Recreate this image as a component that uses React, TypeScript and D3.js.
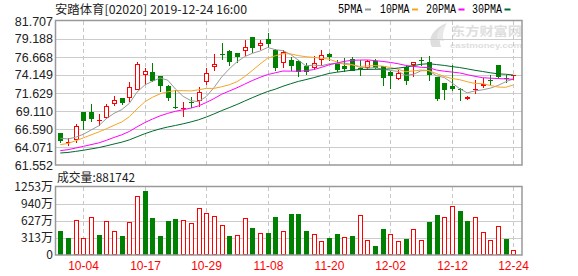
import React from 'react';
import * as d3 from 'd3';

const dates = ['09-30','10-02','10-03','10-04','10-08','10-09','10-10','10-11','10-14','10-15','10-16','10-17','10-18','10-21','10-22','10-23','10-24','10-25','10-28','10-29','10-30','10-31','11-01','11-04','11-05','11-06','11-07','11-08','11-11','11-12','11-13','11-14','11-15','11-18','11-19','11-20','11-21','11-22','11-25','11-26','11-27','11-28','11-29','12-02','12-03','12-04','12-05','12-06','12-09','12-10','12-11','12-12','12-13','12-16','12-17','12-18','12-19','12-20','12-23','12-24'];
const tickDates = ['10-04','10-17','10-29','11-08','11-20','12-02','12-12','12-24'];

const open = [65.98,64.67,65.00,68.97,68.97,67.75,68.13,70.09,70.93,70.93,72.09,74.15,74.57,73.96,72.56,69.62,69.53,70.36,70.55,73.12,75.22,77.05,77.55,77.27,77.46,79.51,78.16,79.18,77.69,75.83,76.20,76.11,75.36,75.13,76.29,77.13,75.83,75.36,76.39,75.15,75.13,76.06,75.36,74.52,73.59,75.22,75.45,76.20,75.92,73.90,73.03,72.60,72.15,70.79,72.05,72.56,73.45,75.59,73.68,73.95];
const high = [66.00,65.33,67.29,69.00,70.13,68.69,70.09,71.25,70.93,73.21,75.97,75.13,75.87,74.05,72.79,72.00,70.32,71.07,72.42,75.13,77.09,78.62,77.69,77.27,79.00,79.51,79.00,80.02,77.78,77.60,76.67,76.20,75.83,76.76,77.69,77.20,76.29,76.52,76.67,76.20,76.29,76.39,75.40,74.66,74.89,75.36,75.92,76.67,76.76,73.90,73.03,75.59,72.33,71.20,73.49,73.73,74.10,75.59,74.10,74.10];
const low = [64.70,64.16,64.63,66.40,67.52,66.96,67.99,69.76,69.90,70.32,71.99,72.79,73.17,71.72,70.46,69.39,68.22,69.53,69.67,72.79,74.66,76.20,75.45,75.83,76.85,77.22,77.69,77.92,74.66,75.13,74.66,73.87,74.19,74.80,75.36,76.06,74.52,74.52,74.66,74.05,74.89,74.99,72.56,72.23,73.40,72.79,73.87,75.36,73.26,70.55,70.69,71.86,70.55,70.65,71.49,72.33,72.79,73.73,73.03,73.49];
const close = [64.86,64.72,66.96,67.66,68.03,67.80,69.76,70.65,70.23,72.47,75.69,74.71,73.26,72.56,70.88,69.49,69.58,70.30,71.81,74.43,75.69,76.99,76.06,76.76,78.06,78.02,78.62,78.53,75.22,77.41,75.36,74.57,74.52,75.83,76.94,76.67,74.80,74.89,74.75,75.10,76.06,75.13,73.68,73.96,74.43,73.26,75.92,76.15,74.05,70.80,72.09,72.25,72.05,71.07,72.12,72.89,73.38,73.96,73.63,74.10];
// 成交量, 万股
const volume = [450,322,645,316,693,371,620,438,353,602,1095,1174,681,353,626,663,645,584,858,766,712,547,353,365,675,499,401,401,693,438,754,754,444,383,262,316,389,328,353,730,274,170,480,383,255,298,474,274,608,736,693,912,809,626,693,420,280,529,298,88.1742];
// estimated closes of the 29 sessions before 09-30 (needed for the moving averages)
const historyCloses = [62.3,62.6,62.9,62.5,62.2,62.4,62.8,62.6,62.7,62.7,62.0,62.4,62.9,63.2,63.0,62.6,62.5,62.9,63.0,62.7,63.0,63.3,63.6,63.8,63.8,65.2,65.8,65.6,65.04];

const priceTicks = [61.552,64.071,66.590,69.110,71.629,74.149,76.668,79.188,81.707];
const volTicks = [0,313,627,940,1253];
const maPeriods = [5,10,20,30];
const maColors = ['#999999','#f5a623','#ff00ff','#006b2d'];
const maLabels = ['5PMA','10PMA','20PMA','30PMA'];

const W = 578, H = 276;
const LEFT = 55.5, RIGHT = 522;
const P_TOP = 21, P_BOT = 165;
const V_TOP = 187, V_BOT = 255;
const RED = '#ff0000', GREEN = '#008000';

export default function App() {
  const x = d3.scalePoint<string>().domain(dates).range([60.3, 513.3]);
  const yP = d3.scaleLinear().domain([61.552, 81.707]).range([P_BOT, P_TOP]);
  const yV = d3.scaleLinear().domain([0, 1253]).range([V_BOT, V_TOP]);

  const all = [...historyCloses, ...close];
  const mas = maPeriods.map(n => close.map((_, i) => {
    const j = i + historyCloses.length;
    return d3.mean(all.slice(j - n + 1, j + 1)) as number;
  }));
  const line = d3.line<number>().x((_, i) => x(dates[i]) as number).y(d => yP(d));

  const cx = (i: number) => Math.round(x(dates[i]) as number);
  const mono = "'Liberation Mono', 'DejaVu Sans Mono', monospace";
  const cjk = "'Noto Sans CJK SC', 'Liberation Sans', sans-serif";
  const sans = "'Liberation Sans', Arial, sans-serif";

  const legendX = [338, 380, 426, 472];
  const legendW = [24.5, 29.5, 30, 30];

  return (
    <svg width={W} height={H} style={{ position: 'absolute', left: 0, top: 0, background: '#fff' }}>
      <rect x={0} y={0} width={W} height={H} fill="#fff" />
      {/* title */}
      <text x={55} y={13.5} fontFamily={cjk} fontSize={12} fill="#222" textLength={192} lengthAdjust="spacingAndGlyphs">安踏体育[02020] 2019-12-24 16:00</text>
      {/* legend */}
      {maLabels.map((l, k) => (
        <g key={l}>
          <text x={legendX[k]} y={13} fontFamily={mono} fontSize={12} fill="#000" textLength={legendW[k]} lengthAdjust="spacingAndGlyphs">{l}</text>
          <line x1={legendX[k] + legendW[k] + 2.5} x2={legendX[k] + legendW[k] + 8.5} y1={9.5} y2={9.5} stroke={maColors[k]} strokeWidth={2} />
        </g>
      ))}
      {/* watermark */}
      <g fill="#dedede">
        <path d="M432,47 C427,38 434,28 447,23 C441,30 438,37 441,47 Z" />
        <path d="M437,40 C436,33 440,27 446,25 C443,31 442,36 444,41 Z" fill="#e8e8e8" />
        <text x={451} y={35.5} fontFamily={cjk} fontSize={12.5} fontWeight="bold" textLength={71} lengthAdjust="spacingAndGlyphs">东方财富网</text>
        <text x={450} y={47.5} fontFamily={sans} fontSize={8} fontWeight="bold" textLength={72} lengthAdjust="spacingAndGlyphs">eastmoney.com</text>
      </g>
      {/* price grid */}
      {priceTicks.slice(1, -1).map(t => (
        <line key={t} x1={LEFT} x2={RIGHT} y1={Math.round(yP(t)) + 0.5} y2={Math.round(yP(t)) + 0.5} stroke="#cccccc" />
      ))}
      {volTicks.slice(1, -1).map(t => (
        <line key={t} x1={LEFT} x2={RIGHT} y1={Math.round(yV(t)) + 0.5} y2={Math.round(yV(t)) + 0.5} stroke="#cccccc" />
      ))}
      {tickDates.map(d => {
        const xx = Math.round(x(d) as number) + 0.5;
        return (
          <g key={d}>
            <line x1={xx} x2={xx} y1={P_TOP} y2={P_BOT} stroke="#c8c8c8" strokeDasharray="4,3" />
            <line x1={xx} x2={xx} y1={V_TOP} y2={V_BOT} stroke="#c8c8c8" strokeDasharray="4,3" />
            <text x={xx} y={270} textAnchor="middle" fontFamily={sans} fontSize={12} fill={RED}>{d}</text>
          </g>
        );
      })}
      {/* price labels */}
      {priceTicks.map(t => (
        <text key={t} x={53} y={yP(t)} dy="0.36em" textAnchor="end" fontFamily={sans} fontSize={12.5} fill="#222">{t.toFixed(3)}</text>
      ))}
      {volTicks.map(t => (
        <text key={t} x={53} y={yV(t)} dy="0.36em" textAnchor="end" fontFamily={cjk} fontSize={12} fill="#222">{t === 0 ? '0' : `${t}万`}</text>
      ))}
      {/* candles */}
      {dates.map((d, i) => {
        const c = cx(i);
        const up = close[i] >= open[i];
        const col = up ? RED : GREEN;
        const yTop = yP(Math.max(open[i], close[i]));
        const yBot = yP(Math.min(open[i], close[i]));
        const bh = Math.max(1, Math.round(yBot - yTop));
        const by = Math.round(yTop);
        return (
          <g key={d}>
            <line x1={c + 0.5} x2={c + 0.5} y1={Math.round(yP(high[i]))} y2={Math.round(yP(low[i]))} stroke={col} />
            {up ? (
              bh <= 1
                ? <rect x={c - 2} y={by} width={5} height={1} fill={col} />
                : <rect x={c - 1.5} y={by + 0.5} width={4} height={bh - 1} fill="#fff" stroke={col} />
            ) : (
              <rect x={c - 2} y={by} width={5} height={bh} fill={col} />
            )}
          </g>
        );
      })}
      {/* moving averages */}
      {mas.map((m, k) => (
        <path key={k} d={line(m) || ''} fill="none" stroke={maColors[k]} strokeWidth={1} />
      ))}
      {/* volume */}
      <text x={57} y={182} fontFamily={cjk} fontSize={12} fill="#222" textLength={78} lengthAdjust="spacingAndGlyphs">成交量:881742</text>
      {dates.map((d, i) => {
        const c = cx(i);
        const prev = i === 0 ? historyCloses[historyCloses.length - 1] : close[i - 1];
        const up = close[i] >= prev;
        const top = Math.round(yV(volume[i]));
        const h = V_BOT - top;
        return up
          ? <rect key={d} x={c - 1.5} y={top + 0.5} width={4} height={h - 1} fill="#fff" stroke={RED} />
          : <rect key={d} x={c - 2} y={top} width={5} height={h} fill={GREEN} />;
      })}
      {/* frames */}
      <rect x={LEFT} y={P_TOP - 0.5} width={RIGHT - LEFT} height={P_BOT - P_TOP + 0.5} fill="none" stroke="#999" strokeWidth={1.5} />
      <rect x={LEFT} y={V_TOP - 0.5} width={RIGHT - LEFT} height={V_BOT - V_TOP + 0.5} fill="none" stroke="#999" strokeWidth={1.5} />
    </svg>
  );
}
